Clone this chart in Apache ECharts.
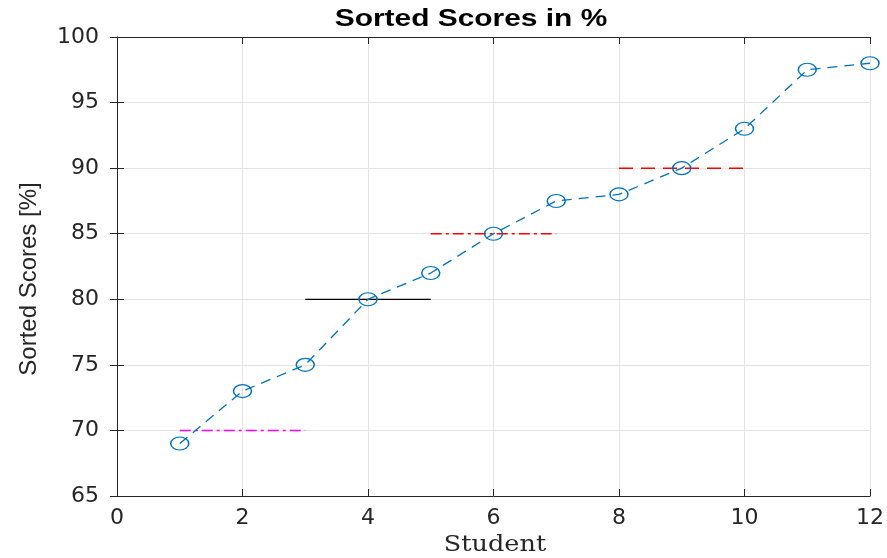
<!DOCTYPE html>
<html><head><meta charset="utf-8">
<script src="https://cdn.jsdelivr.net/npm/echarts@6/dist/echarts.min.js"></script>
<style>html,body{margin:0;padding:0;background:#fff}#c{width:887px;height:558px}</style>
</head><body><div id="c"></div>
<script>
const students = [1,2,3,4,5,6,7,8,9,10,11,12];
const scores = [69,73,75,80,82,85,87.5,88,90,93,97.5,98];
const refMagenta = [[1,70],[3,70]];
const refBlack = [[3,80],[5,80]];
const refRedDashDot = [[5,85],[7,85]];
const refRedDash = [[8,90],[10,90]];
const xTicks = {min:0,max:12,interval:2};
const yTicks = {min:65,max:100,interval:5};
const titleText = 'Sorted Scores in %';
const xName = 'Student';
const yName = 'Sorted Scores [%]';

const tickFont = '"DejaVu Sans", "Liberation Sans", Arial, sans-serif';
const chart = echarts.init(document.getElementById('c'), null, {renderer:'canvas'});
const axisCommon = {
  axisLine:{show:true,lineStyle:{color:'#262626',width:1}},
  axisTick:{show:true,inside:true,length:7,lineStyle:{color:'#262626'}},
  splitLine:{show:true,lineStyle:{color:'#e3e3e3',width:1}}
};
chart.setOption({
  animation:false,
  graphic:[
    {type:'text',x:471,y:20,scaleX:1.3,
      style:{text:titleText,textAlign:'center',textVerticalAlign:'middle',
        font:'bold 23px "Liberation Sans", Arial, sans-serif',fill:'#000'}},
    {type:'text',x:495,y:545,scaleX:1.16,
      style:{text:xName,textAlign:'center',textVerticalAlign:'middle',
        font:'22px "DejaVu Serif", "Liberation Serif", serif',fill:'#262626'}},
    {type:'text',x:29,y:279,rotation:Math.PI/2,
      style:{text:yName,textAlign:'center',textVerticalAlign:'middle',
        font:'24px "Liberation Sans", Arial, sans-serif',fill:'#262626'}}
  ],
  grid:{left:117,right:15,top:37,bottom:62},
  xAxis:[
    Object.assign({type:'value',position:'bottom',min:xTicks.min,max:xTicks.max,interval:xTicks.interval,
      axisLabel:{fontFamily:tickFont,fontSize:22,color:'#262626',margin:11}},axisCommon),
    {type:'value',position:'top',min:xTicks.min,max:xTicks.max,interval:xTicks.interval,
      axisLine:{show:true,lineStyle:{color:'#262626'}},axisTick:{show:true,inside:true,length:7,lineStyle:{color:'#262626'}},
      axisLabel:{show:false},splitLine:{show:false}}
  ],
  yAxis:[
    Object.assign({type:'value',position:'left',min:yTicks.min,max:yTicks.max,interval:yTicks.interval,
      axisLabel:{fontFamily:tickFont,fontSize:22,color:'#262626',margin:18}},axisCommon),
    {type:'value',position:'right',min:yTicks.min,max:yTicks.max,interval:yTicks.interval,
      axisLine:{show:true,lineStyle:{color:'#262626'}},axisTick:{show:true,inside:true,length:7,lineStyle:{color:'#262626'}},
      axisLabel:{show:false},splitLine:{show:false}}
  ],
  series:[
    {type:'line',data:refMagenta,symbol:'none',lineStyle:{color:'#ff00ff',width:1.5,type:[11,4,3,4]},z:2},
    {type:'line',data:refBlack,symbol:'none',lineStyle:{color:'#000',width:1.3,type:'solid'},z:2},
    {type:'line',data:refRedDashDot,symbol:'none',lineStyle:{color:'#ff0000',width:1.5,type:[11,4,3,4]},z:2},
    {type:'line',data:refRedDash,symbol:'none',lineStyle:{color:'#ff0000',width:1.5,type:[14,8]},z:2},
    {type:'line',data:students.map((s,i)=>[s,scores[i]]),symbol:'circle',symbolSize:[18,13],
      itemStyle:{color:'rgba(0,0,0,0)',borderColor:'#0072BD',borderWidth:1.3},
      lineStyle:{color:'#0072BD',width:1.3,type:[10,7]},z:3}
  ]
});
</script></body></html>
